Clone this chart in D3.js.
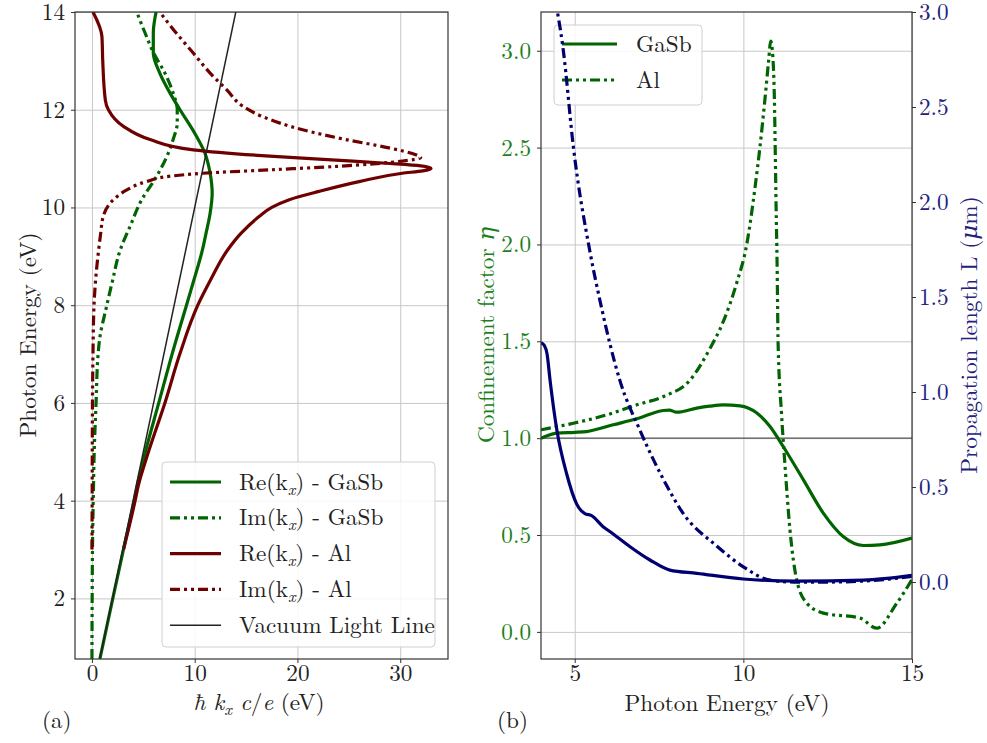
<!DOCTYPE html>
<html>
<head>
<meta charset="utf-8">
<script src="https://cdn.jsdelivr.net/npm/d3@7"></script>
<style>
  body { margin: 0; background: #fff; }
  svg text { font-family: "Latin Modern Roman", "DejaVu Serif", serif; }
</style>
</head>
<body>
<div id="chart"></div>
<script>
// ---- data ----
// panel (a): [photon energy (eV), hbar k c / e (eV)]
const reGaSb = [[0.76,0.77],[2,2.03],[3,3.06],[4,4.12],[4.3,4.4],[5,5.2],[6,6.5],[7,7.8],[8,9.2],[8.5,9.9],[9.13,10.75],
  [9.47,11.1],[9.88,11.5],[10.29,11.7],[10.7,11.5],[11.11,11.0],[11.52,10.0],[12,8.57],[12.34,7.6],[12.75,6.6],[13.16,5.97],[13.57,5.97],[14,6.24]]
const imGaSb = [[0.76,0],[2,0.02],[3,0.05],[4.3,0.15],[5,0.22],[6,0.4],[7,0.6],[7.3,0.74],[8,1.45],[8.5,2.0],[9.13,2.75],
  [9.61,3.7],[10.16,4.85],[10.64,6.3],[11.05,7.3],[11.39,7.9],[11.73,8.3],[12,8.3],[12.34,7.9],[12.75,7.1],[13.16,6.0],[13.57,5.17],[14,4.36]]
const reAl = [[3,3.07],[4,4.2],[4.3,4.5],[5,5.5],[6,7.1],[7,8.55],[8,10.3],[8.5,11.5],[9.13,13.2],[9.47,14.5],[9.82,16.3],
  [10.0,17.5],[10.16,19.2],[10.33,22.1],[10.53,26.0],[10.7,30.2],[10.75,32.2],[10.8,33.0],[10.85,32.0],[10.9,29.0],[10.95,25.4],
  [11.05,17.3],[11.18,9.86],[11.39,5.65],[11.66,3.07],[12,1.6],[12.2,1.3],[13,1.05],[13.5,0.97],[14,0.1]]
const imAl = [[3,0.0],[4,0.02],[5,0.03],[6,0.05],[7,0.1],[8,0.2],[8.5,0.35],[9.13,0.65],[9.47,0.85],[9.82,1.1],[10.16,2.1],
  [10.36,3.4],[10.53,5.3],[10.64,7.6],[10.7,10.8],[10.77,17.3],[10.84,23.8],[10.95,30.2],[11.02,32.0],[11.08,31.5],[11.22,28.9],
  [11.39,24.7],[11.59,20.5],[11.86,16.6],[12.07,14.7],[12.41,13.1],[12.75,11.5],[13.16,9.86],[13.57,8.2],[14,6.6]]
const lightLine = [[0,0],[15,15]]

// panel (b): [photon energy (eV), value]
const etaGaSb = [[4,1.0],[4.47,1.026],[5.0,1.03],[5.35,1.034],[6.14,1.069],[6.84,1.10],[7.63,1.143],[7.8,1.145],[8.02,1.134],
  [8.62,1.155],[9.0,1.165],[9.4,1.172],[9.9,1.167],[10.4,1.13],[10.79,1.06],[11.18,0.957],[11.78,0.785],[12.37,0.613],
  [12.96,0.492],[13.56,0.446],[14.05,0.449],[15,0.484]]
const etaAl = [[4,1.043],[4.96,1.077],[5.95,1.12],[6.84,1.172],[7.63,1.215],[8.42,1.30],[9.0,1.46],[9.4,1.6],[9.8,1.8],
  [10.1,2.0],[10.35,2.3],[10.49,2.5],[10.64,2.75],[10.75,2.95],[10.81,3.05],[10.86,3.0],[10.92,2.75],[10.97,2.2],[11.0,1.9],
  [11.03,1.49],[11.13,1.13],[11.23,0.87],[11.38,0.53],[11.58,0.27],[11.88,0.148],[12.37,0.097],[13.46,0.071],[13.95,0.019],
  [14.55,0.148],[15,0.27]]
const lenGaSb = [[4,1.26],[4.1,1.245],[4.18,1.2],[4.27,1.06],[4.47,0.8],[4.76,0.57],[5.06,0.41],[5.3,0.36],[5.5,0.35],
  [5.85,0.29],[6.05,0.265],[6.64,0.186],[7.23,0.116],[7.82,0.063],[8.62,0.046],[10,0.016],[11.58,0.005],[13.56,0.01],[15,0.035]]
const lenAl = [[4.38,3.1],[4.66,2.8],[4.96,2.29],[5.45,1.74],[5.75,1.48],[6.34,1.06],[6.93,0.8],[7.63,0.54],[8.22,0.36],
  [9.21,0.19],[10.0,0.08],[10.79,0.01],[11.5,0.0],[12.5,0.0],[13.55,0.005],[14.3,0.015],[15,0.03]]

// ticks
const kTicks = [0, 10, 20, 30]
const energyTicksA = [2, 4, 6, 8, 10, 12, 14]
const energyTicksB = [5, 10, 15]
const etaTicks = [0, 0.5, 1, 1.5, 2, 2.5, 3]
const lenTicks = [0, 0.5, 1, 1.5, 2, 2.5, 3]

// legends
const legendA = ["Re(k_x) - GaSb", "Im(k_x) - GaSb", "Re(k_x) - Al", "Im(k_x) - Al", "Vacuum Light Line"]
const legendB = ["GaSb", "Al"]

// ---- styles ----
const green = "#006400", maroon = "#6e0000", navy = "#000070"
const greenText = "#1c7f1c", navyText = "#22227d"
const dashDotDot = "10,4,3,4,3,4"
const fontSize = 23.2
const font = "'Latin Modern Roman', 'DejaVu Serif', serif"

const svg = d3.select("#chart").append("svg")
  .attr("width", 987).attr("height", 743)
  .style("font-family", font)

// subscript helper: "Re(k_x) - GaSb" -> k with italic subscript x
function richText(sel, label) {
  const parts = label.split(/_(\w)/)
  parts.forEach((p, i) => {
    if (i % 2 === 1) {
      sel.append("tspan").attr("dy", 5).attr("font-size", 16.5).attr("font-style", "italic").text(p)
    } else if (p.length) {
      sel.append("tspan").attr("dy", i > 0 ? -5 : 0).text(p)
    }
  })
}

function styleAxis(g, color) {
  g.attr("font-family", null).attr("font-size", null)
  g.select(".domain").remove()
  g.selectAll(".tick line").attr("stroke", "#333").attr("stroke-width", 1)
  g.selectAll(".tick text").attr("font-size", fontSize).attr("fill", color || "#222")
}

function grid(g, axis) {
  g.call(axis)
  g.select(".domain").remove()
  g.selectAll(".tick line").attr("stroke", "#c8c8c8").attr("stroke-width", 1)
}

// =================== panel (a) ===================
const xA = d3.scaleLinear().domain([-1.65, 34.65]).range([75, 448])
const yA = d3.scaleLinear().domain([0.76, 14]).range([659, 12])

const gA = svg.append("g")
svg.append("clipPath").attr("id", "clipA").append("rect")
  .attr("x", 75).attr("y", 12).attr("width", 373).attr("height", 647)

grid(gA.append("g").attr("transform", "translate(0,659)"),
  d3.axisBottom(xA).tickValues(kTicks).tickSize(-647).tickFormat(""))
grid(gA.append("g").attr("transform", "translate(75,0)"),
  d3.axisLeft(yA).tickValues(energyTicksA).tickSize(-373).tickFormat(""))

const lineA = d3.line().x(d => xA(d[1])).y(d => yA(d[0])).curve(d3.curveMonotoneY)
const curvesA = [
  { data: reGaSb, color: green, dash: null, w: 3.2 },
  { data: imGaSb, color: green, dash: dashDotDot, w: 3.2 },
  { data: reAl, color: maroon, dash: null, w: 3.2 },
  { data: imAl, color: maroon, dash: dashDotDot, w: 3.2 },
  { data: lightLine, color: "#222", dash: null, w: 1.5 }
]
const plotA = gA.append("g").attr("clip-path", "url(#clipA)")
curvesA.forEach(c => {
  plotA.append("path").datum(c.data)
    .attr("d", lineA).attr("fill", "none")
    .attr("stroke", c.color).attr("stroke-width", c.w)
    .attr("stroke-dasharray", c.dash)
})

gA.append("rect").attr("x", 75).attr("y", 12).attr("width", 373).attr("height", 647)
  .attr("fill", "none").attr("stroke", "#333").attr("stroke-width", 1.2)

styleAxis(gA.append("g").attr("transform", "translate(0,659)")
  .call(d3.axisBottom(xA).tickValues(kTicks).tickSize(4).tickPadding(2)))
styleAxis(gA.append("g").attr("transform", "translate(75,0)")
  .call(d3.axisLeft(yA).tickValues(energyTicksA).tickSize(4).tickPadding(6)))

// legend (a)
const legA = gA.append("g")
legA.append("rect").attr("x", 162).attr("y", 462).attr("width", 273).attr("height", 185)
  .attr("rx", 4).attr("fill", "white").attr("fill-opacity", 0.85).attr("stroke", "#d0d0d0")
legendA.forEach((lab, i) => {
  const c = curvesA[i]
  const yy = 482 + i * 35.8
  legA.append("line").attr("x1", 170).attr("x2", 221).attr("y1", yy).attr("y2", yy)
    .attr("stroke", c.color).attr("stroke-width", c.w).attr("stroke-dasharray", c.dash)
  const t = legA.append("text").attr("x", 239).attr("y", yy + 7.5)
    .attr("font-size", fontSize).attr("fill", "#222")
  richText(t, lab)
})

// axis labels (a)
svg.append("text").attr("transform", "translate(36,335) rotate(-90)")
  .attr("text-anchor", "middle").attr("font-size", fontSize).attr("fill", "#222")
  .text("Photon Energy (eV)")
const xl = svg.append("text").attr("x", 259).attr("y", 710)
  .attr("text-anchor", "middle").attr("font-size", fontSize).attr("fill", "#222")
xl.append("tspan").attr("font-style", "italic").text("ħ k")
xl.append("tspan").attr("font-style", "italic").attr("font-size", 16.5).attr("dy", 5).text("x")
xl.append("tspan").attr("font-style", "italic").attr("dy", -5).text(" c")
xl.append("tspan").text("/")
xl.append("tspan").attr("font-style", "italic").text("e")
xl.append("tspan").text(" (eV)")
svg.append("text").attr("x", 42).attr("y", 728).attr("font-size", fontSize).attr("fill", "#222").text("(a)")

// =================== panel (b) ===================
const xB = d3.scaleLinear().domain([4, 15]).range([541, 912])
const yEta = d3.scaleLinear().domain([-0.14, 3.2]).range([659, 12])
const yLen = d3.scaleLinear().domain([-0.405, 3.0]).range([659, 12])

const gB = svg.append("g")
svg.append("clipPath").attr("id", "clipB").append("rect")
  .attr("x", 541).attr("y", 12).attr("width", 371).attr("height", 647)

grid(gB.append("g").attr("transform", "translate(0,659)"),
  d3.axisBottom(xB).tickValues(energyTicksB).tickSize(-647).tickFormat(""))
grid(gB.append("g").attr("transform", "translate(541,0)"),
  d3.axisLeft(yEta).tickValues(etaTicks).tickSize(-371).tickFormat(""))

const plotB = gB.append("g").attr("clip-path", "url(#clipB)")
plotB.append("line").attr("x1", 541).attr("x2", 912)
  .attr("y1", yEta(1)).attr("y2", yEta(1))
  .attr("stroke", "#555").attr("stroke-width", 1.3)

const lineEta = d3.line().x(d => xB(d[0])).y(d => yEta(d[1])).curve(d3.curveMonotoneX)
const lineLen = d3.line().x(d => xB(d[0])).y(d => yLen(d[1])).curve(d3.curveMonotoneX)

const etaCurves = [
  { data: etaGaSb, dash: null },
  { data: etaAl, dash: dashDotDot }
]
etaCurves.forEach(c => {
  plotB.append("path").datum(c.data).attr("d", lineEta).attr("fill", "none")
    .attr("stroke", green).attr("stroke-width", 3.2).attr("stroke-dasharray", c.dash)
})

// legend (b) belongs to the eta axis, drawn under the length curves
const legB = gB.append("g")
legB.append("rect").attr("x", 554).attr("y", 25).attr("width", 148).attr("height", 80)
  .attr("rx", 4).attr("fill", "white").attr("fill-opacity", 0.85).attr("stroke", "#d0d0d0")
legendB.forEach((lab, i) => {
  const yy = 44 + i * 36
  legB.append("line").attr("x1", 562).attr("x2", 617).attr("y1", yy).attr("y2", yy)
    .attr("stroke", green).attr("stroke-width", 3.2).attr("stroke-dasharray", etaCurves[i].dash)
  legB.append("text").attr("x", 636).attr("y", yy + 7.5)
    .attr("font-size", fontSize).attr("fill", "#222").text(lab)
})

const plotB2 = gB.append("g").attr("clip-path", "url(#clipB)")
plotB2.append("path").datum(lenAl).attr("d", lineLen).attr("fill", "none")
  .attr("stroke", navy).attr("stroke-width", 3.2).attr("stroke-dasharray", dashDotDot)
plotB2.append("path").datum(lenGaSb).attr("d", lineLen).attr("fill", "none")
  .attr("stroke", navy).attr("stroke-width", 3.2)

gB.append("rect").attr("x", 541).attr("y", 12).attr("width", 371).attr("height", 647)
  .attr("fill", "none").attr("stroke", "#333").attr("stroke-width", 1.2)

styleAxis(gB.append("g").attr("transform", "translate(0,659)")
  .call(d3.axisBottom(xB).tickValues(energyTicksB).tickSize(4).tickPadding(2)))
styleAxis(gB.append("g").attr("transform", "translate(541,0)")
  .call(d3.axisLeft(yEta).tickValues(etaTicks).tickSize(4).tickPadding(6).tickFormat(d3.format(".1f"))), greenText)
styleAxis(gB.append("g").attr("transform", "translate(912,0)")
  .call(d3.axisRight(yLen).tickValues(lenTicks).tickSize(4).tickPadding(3).tickFormat(d3.format(".1f"))), navyText)

// axis labels (b)
svg.append("text").attr("x", 727).attr("y", 711)
  .attr("text-anchor", "middle").attr("font-size", fontSize).attr("fill", "#222")
  .text("Photon Energy (eV)")
svg.append("text").attr("x", 497).attr("y", 728).attr("font-size", fontSize).attr("fill", "#222").text("(b)")

const etaLabel = svg.append("text").attr("transform", "translate(494,335) rotate(-90)")
  .attr("text-anchor", "middle").attr("font-size", fontSize).attr("fill", greenText)
etaLabel.append("tspan").text("Confinement factor ")
etaLabel.append("tspan").attr("font-style", "italic").text("η")

const lenLabel = svg.append("text").attr("transform", "translate(977,335) rotate(-90)")
  .attr("text-anchor", "middle").attr("font-size", fontSize).attr("fill", navyText)
lenLabel.append("tspan").text("Propagation length L (")
lenLabel.append("tspan").attr("font-style", "italic").text("μ")
lenLabel.append("tspan").text("m)")
</script>
</body>
</html>
